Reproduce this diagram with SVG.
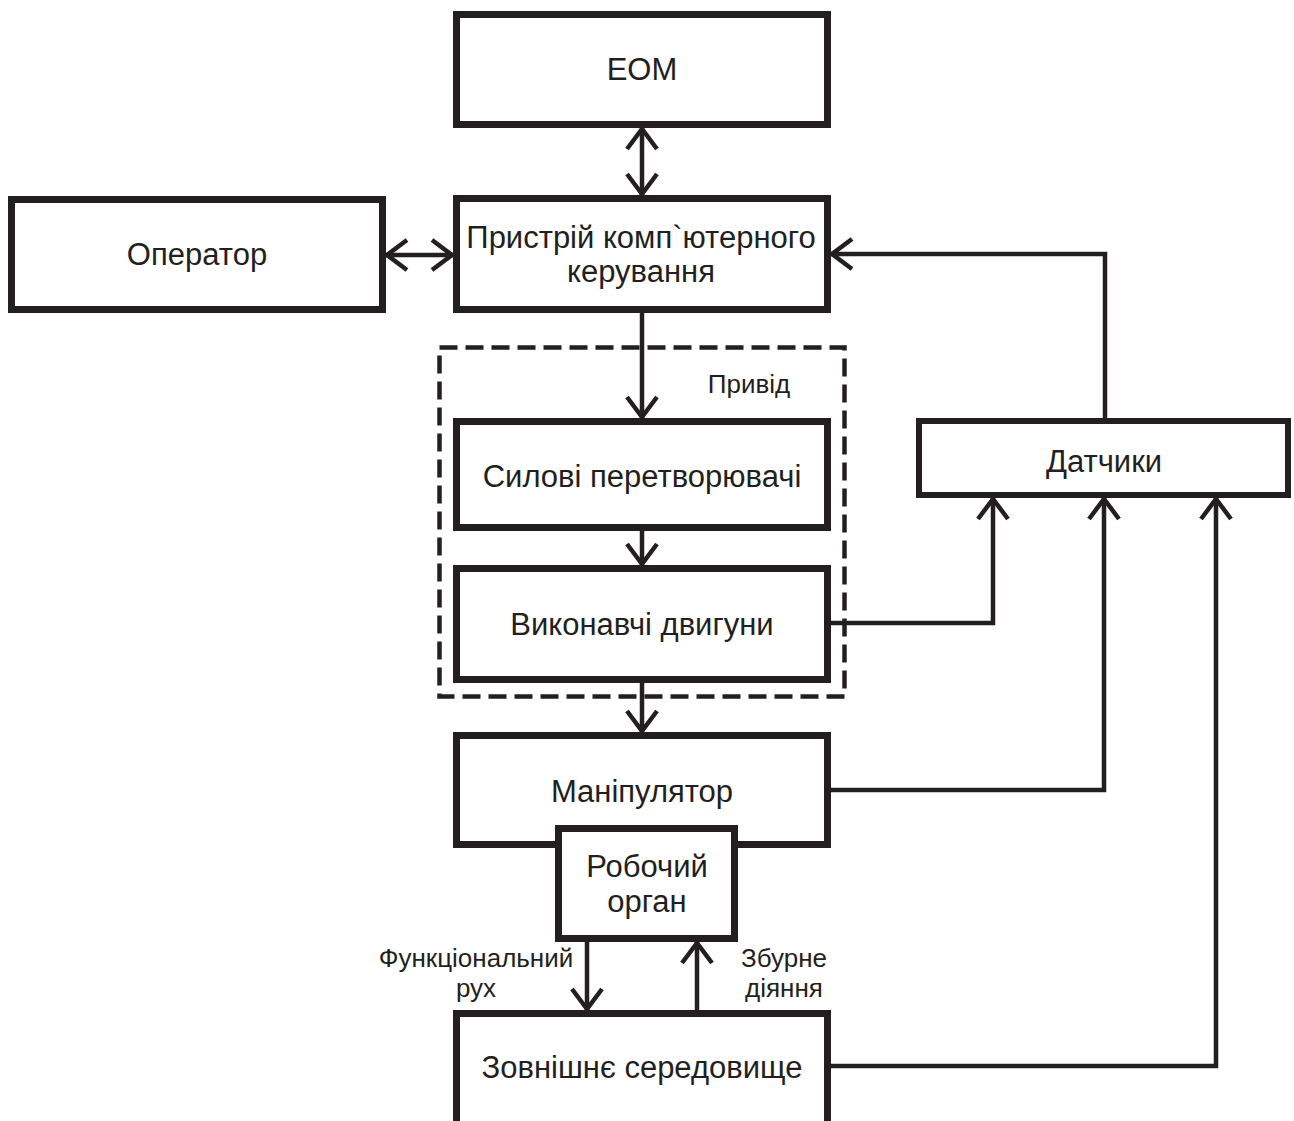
<svg xmlns="http://www.w3.org/2000/svg" width="1294" height="1121" viewBox="0 0 1294 1121">
<style>
.box{fill:#fff;stroke:#231f20;stroke-width:7}
.thin{stroke-width:6}
.dash{fill:none;stroke:#231f20;stroke-width:4.5;stroke-dasharray:18 8}
.c{fill:none;stroke:#231f20;stroke-width:4.5}
.t{font-family:"Liberation Sans",Arial,sans-serif;font-size:31px;fill:#231f20;text-anchor:middle}
.s{font-family:"Liberation Sans",Arial,sans-serif;font-size:26px;fill:#231f20;text-anchor:middle}
</style>
<defs>
<marker id="arr" markerUnits="userSpaceOnUse" markerWidth="40" markerHeight="40" viewBox="-30 -20 40 40" refX="0" refY="0" orient="auto-start-reverse" overflow="visible">
<path d="M-21,-15 L-1,0 L-21,15" fill="none" stroke="#231f20" stroke-width="4.5"/>
</marker>
</defs>
<rect width="1294" height="1121" fill="#fff"/>
<g id="privid">
<rect class="dash" x="439.5" y="347.5" width="405" height="349"/>
<text class="s" x="749" y="393">Привід</text>
</g>
<g id="connectors">
<path class="c" d="M642,128 V195" marker-start="url(#arr)" marker-end="url(#arr)"/>
<path class="c" d="M386,255 H453" marker-start="url(#arr)" marker-end="url(#arr)"/>
<path class="c" d="M1105,418 V254 H831" marker-end="url(#arr)"/>
<path class="c" d="M642,313 V418" marker-end="url(#arr)"/>
<path class="c" d="M642,531 V565" marker-end="url(#arr)"/>
<path class="c" d="M642,683 V732" marker-end="url(#arr)"/>
<path class="c" d="M831,623 H993 V498" marker-end="url(#arr)"/>
<path class="c" d="M831,790 H1104 V498" marker-end="url(#arr)"/>
<path class="c" d="M831,1066 H1216 V498" marker-end="url(#arr)"/>
<path class="c" d="M587,942 V1010" marker-end="url(#arr)"/>
<path class="c" d="M697,1010 V942" marker-end="url(#arr)"/>
</g>
<g id="eom">
<rect class="box" x="456.5" y="14.5" width="371" height="110"/>
<text class="t" x="642" y="80">ЕОМ</text>
</g>
<g id="operator">
<rect class="box" x="11.5" y="199.5" width="371" height="110"/>
<text class="t" x="197" y="265">Оператор</text>
</g>
<g id="prystrii">
<rect class="box" x="456.5" y="198.5" width="371" height="111"/>
<text class="t" x="641" y="248">Пристрій комп`ютерного</text>
<text class="t" x="641" y="282">керування</text>
</g>
<g id="sylovi">
<rect class="box" x="456.5" y="421.5" width="371" height="106"/>
<text class="t" x="642" y="487">Силові перетворювачі</text>
</g>
<g id="vykonavchi">
<rect class="box" x="456.5" y="568.5" width="371" height="111"/>
<text class="t" x="642" y="635">Виконавчі двигуни</text>
</g>
<g id="manipulator">
<rect class="box" x="456.5" y="735.5" width="371" height="109"/>
<text class="t" x="642" y="802">Маніпулятор</text>
</g>
<g id="robochyi">
<rect class="box" x="558.5" y="828.5" width="176" height="110"/>
<text class="t" x="647" y="877">Робочий</text>
<text class="t" x="647" y="912">орган</text>
</g>
<g id="zovnishnie">
<rect class="box" x="456.5" y="1013.5" width="371" height="130"/>
<text class="t" x="642" y="1078">Зовнішнє середовище</text>
</g>
<g id="datchyky">
<rect class="box thin" x="919" y="421" width="369" height="74"/>
<text class="t" x="1104" y="472">Датчики</text>
</g>
<g id="labels">
<text class="s" x="476" y="967">Функціональний</text>
<text class="s" x="476" y="997">рух</text>
<text class="s" x="784" y="967">Збурне</text>
<text class="s" x="784" y="997">діяння</text>
</g>
</svg>
